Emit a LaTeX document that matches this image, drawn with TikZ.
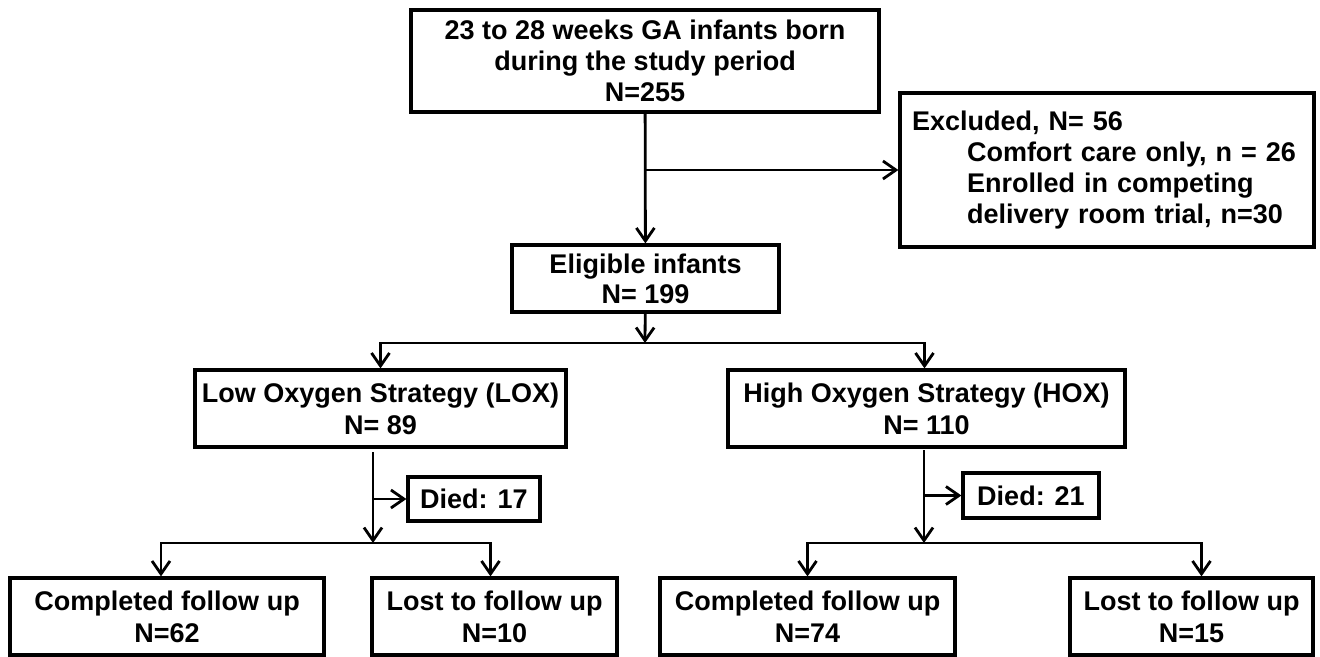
\documentclass[tikz,border=0pt]{standalone}
\usepackage{fontspec}
\setmainfont{Liberation Sans}
\usetikzlibrary{arrows.meta}
\begin{document}
\begin{tikzpicture}[x=1pt,y=-1pt,
  box/.style={draw, line width=3.2pt, inner sep=0pt, align=center,
    font=\fontsize{27}{31}\selectfont\bfseries},
  arr/.style={line width=2.8pt, -{Straight Barb[length=13pt,width=18pt]}},
  plain/.style={line width=2.8pt}]
\useasboundingbox (0,0) rectangle (1320,656);

\node[box, minimum width=468pt, minimum height=102pt] (top) at (645,61)
  {23 to 28 weeks GA infants born\\during the study period\\N=255};
\node[box, minimum width=414pt, minimum height=154pt, text width=390pt,
  inner xsep=12pt, align=left, font=\fontsize{27}{31}\selectfont\bfseries] (excl) at (1107,170)
  {Excluded, N= 56\\
   \hspace*{55pt}Comfort care only, n = 26\\
   \hspace*{55pt}Enrolled in competing\\
   \hspace*{55pt}delivery room trial, n=30};
\node[box, minimum width=267pt, minimum height=67pt,
  font=\fontsize{27}{30}\selectfont\bfseries] (elig) at (645.5,278.5)
  {Eligible infants\\N= 199};
\node[box, minimum width=371pt, minimum height=77pt,
  font=\fontsize{27}{32}\selectfont\bfseries] (lox) at (380.5,408.5)
  {Low Oxygen Strategy (LOX)\\N= 89};
\node[box, minimum width=397pt, minimum height=77pt,
  font=\fontsize{27}{32}\selectfont\bfseries] (hox) at (926.5,408.5)
  {High Oxygen Strategy (HOX)\\N= 110};
\node[box, minimum width=132pt, minimum height=44pt] (d17) at (474,499) {Died: 17};
\node[box, minimum width=136pt, minimum height=45pt] (d21) at (1031,495.5) {Died: 21};
\node[box, minimum width=314pt, minimum height=77pt,
  font=\fontsize{27}{32}\selectfont\bfseries] (lcomp) at (167,616.5)
  {Completed follow up\\N=62};
\node[box, minimum width=245pt, minimum height=77pt,
  font=\fontsize{27}{32}\selectfont\bfseries] (llost) at (494.5,616.5)
  {Lost to follow up\\N=10};
\node[box, minimum width=295pt, minimum height=77pt,
  font=\fontsize{27}{32}\selectfont\bfseries] (hcomp) at (807.5,616.5)
  {Completed follow up\\N=74};
\node[box, minimum width=243pt, minimum height=77pt,
  font=\fontsize{27}{32}\selectfont\bfseries] (hlost) at (1191.5,616.5)
  {Lost to follow up\\N=15};

% top to eligible, with exclusion branch
\draw[arr] (top) -- (elig);
\draw[arr] (top.south |- excl.west) -- (excl.west);

% eligible split
\coordinate (s1) at (645,343);
\draw[arr] (elig) -- (s1);
\draw[arr] (s1) -| (lox.north);
\draw[arr] (s1) -| ([xshift=-2pt]hox.north);

% LOX branch
\coordinate (l0) at (373,452);
\coordinate (l1) at (373,543);
\draw[arr] (l0) -- (l1);
\draw[arr] (l0 |- d17.west) -- (d17.west);
\draw[arr] (l1) -| ([xshift=-6pt]lcomp.north);
\draw[arr] (l1) -| ([xshift=-4pt]llost.north);

% HOX branch
\coordinate (h0) at (924,450);
\coordinate (h1) at (924,543);
\draw[arr] (h0) -- (h1);
\draw[arr] (h0 |- d21.west) -- (d21.west);
\draw[arr] (h1) -| (hcomp.north);
\draw[arr] (h1) -| ([xshift=10pt]hlost.north);
\end{tikzpicture}
\end{document}
